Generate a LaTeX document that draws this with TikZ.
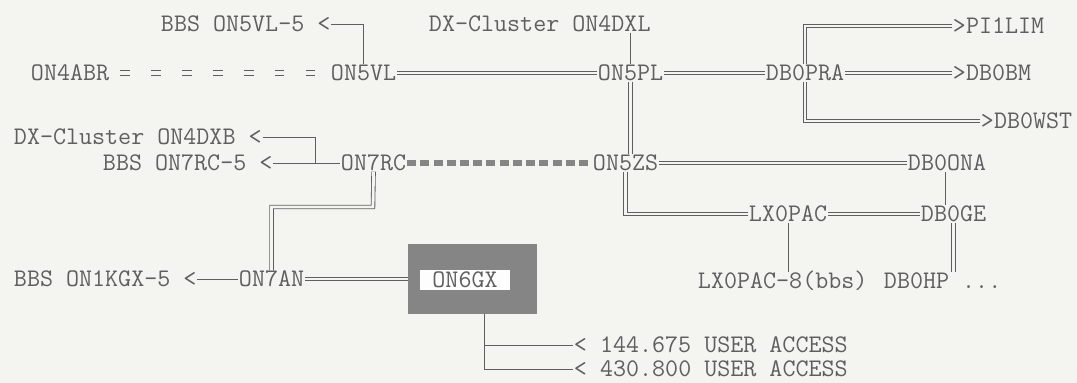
\documentclass[tikz,border=0pt]{standalone}
\usepackage{fontspec}
\usetikzlibrary{positioning}

\definecolor{paper}{HTML}{F4F4F1}
\definecolor{ink}{HTML}{5F5F5F}
\definecolor{slab}{HTML}{858585}

\tikzset{
  call/.style={anchor=west, inner sep=0.5pt, text=ink, text height=11pt, text depth=0pt,
    font=\ttfamily\fontsize{18}{20}\selectfont\addfontfeatures{FakeBold=1.5}},
  wire/.style={draw=ink, line width=0.6pt},
  twin/.style={draw=ink, line width=0.6pt, double=paper, double distance=2pt},
  typed/.style={draw=ink, line width=0.9pt, double=paper, double distance=2.2pt,
    dash pattern=on 7pt off 15pt, dash phase=15pt},
  blocks/.style={draw=slab, line width=4.3pt, dash pattern=on 6.4pt off 3pt},
}

\begin{document}
\begin{tikzpicture}[x=0.25mm, y=-0.25mm]
  \fill[paper] (0,0) rectangle (1077,383);
  \useasboundingbox (0,0) rectangle (1077,383);

  % first rows
  \node[call] (bbsvl) at (160,24)  {BBS ON5VL-5 <};
  \node[call] (dxl)   at (428,24)  {DX-Cluster ON4DXL};
  \node[call] (pilim) at (952,26)  {>PI1LIM};
  \node[call] (abr)   at (30,73)   {ON4ABR};
  \node[call] (vl)    at (330,73)  {ON5VL};
  \node[call] (pl)    at (597,73)  {ON5PL};
  \node[call] (pra)   at (765,73)  {DB0PRA};
  \node[call] (bm)    at (952,73)  {>DB0BM};
  \node[call] (wst)   at (980,121) {>DB0WST};

  % middle rows
  \node[call] (dxb)   at (13,137)  {DX-Cluster ON4DXB <};
  \node[call] (bbsrc) at (102,163) {BBS ON7RC-5 <};
  \node[call] (rc)    at (340,163) {ON7RC};
  \node[call] (zs)    at (592,163) {ON5ZS};
  \node[call] (ona)   at (907,163) {DB0ONA};
  \node[call] (lx)    at (748,214) {LX0PAC};
  \node[call] (ge)    at (920,214) {DB0GE};
  \coordinate (rcjoin) at (315,163);
  \coordinate (rcbend) at (373,207);

  % bottom rows
  \node[call] (kgx)   at (13,279)  {BBS ON1KGX-5 <};
  \node[call] (an)    at (238,279) {ON7AN};
  \node[fill=slab, minimum width=32.25mm, minimum height=17.5mm, inner sep=0pt] (gxbox) at (472.5,279) {};
  \node[call, anchor=center, fill=white!85!paper, minimum width=22.5mm, minimum height=5.2mm] (gx) at (465,280) {ON6GX};
  \node[call] (lx8)   at (697,281) {LX0PAC-8(bbs)};
  \node[call] (hp)    at (883,281) {DB0HP ...};
  \node[call] (acc1)  at (573,345) {< 144.675 USER ACCESS};
  \node[call] (acc2)  at (573,369) {< 430.800 USER ACCESS};

  \draw[wire] (bbsvl.east) -| (vl.north);
  \draw[typed] (abr.east) -- (vl.west);
  \draw[twin] (vl.east) -- (pl.west);
  \draw[wire] (dxl.south -| pl.north) -- (pl.north);
  \draw[twin] (pl.east) -- (pra.west);
  \draw[twin] (pra.east) -- (bm.west);
  \draw[twin] (pra.north) |- (pilim.west);
  \draw[twin] (pra.south) |- (wst.west);
  \draw[twin] (pl.south) -- (pl.south |- zs.north);

  \draw[wire] (dxb.east) -| (rcjoin);
  \draw[wire] (bbsrc.east) -- (rc.west);
  \draw[blocks] (rc.east) -- (zs.west);
  \draw[twin] (zs.east) -- (ona.west);
  \draw[twin] (zs.south) |- (lx.west);
  \draw[twin] (ona.south) -- (ona.south |- ge.north);
  \draw[twin] (lx.east) -- (ge.west);
  \draw[wire] (lx.south) -- (lx.south |- lx8.north);
  \draw[twin] (ge.south) -- (ge.south |- hp.north);

  \draw[twin] (rc.south) -- (rcbend) -| (an.north);
  \draw[wire] (kgx.east) -- (an.west);
  \draw[twin] (an.east) -- (gxbox.west);
  \draw[wire] ([xshift=3mm]gxbox.south) |- (acc1.west);
  \draw[wire] ([xshift=3mm]gxbox.south) |- (acc2.west);
\end{tikzpicture}
\end{document}
